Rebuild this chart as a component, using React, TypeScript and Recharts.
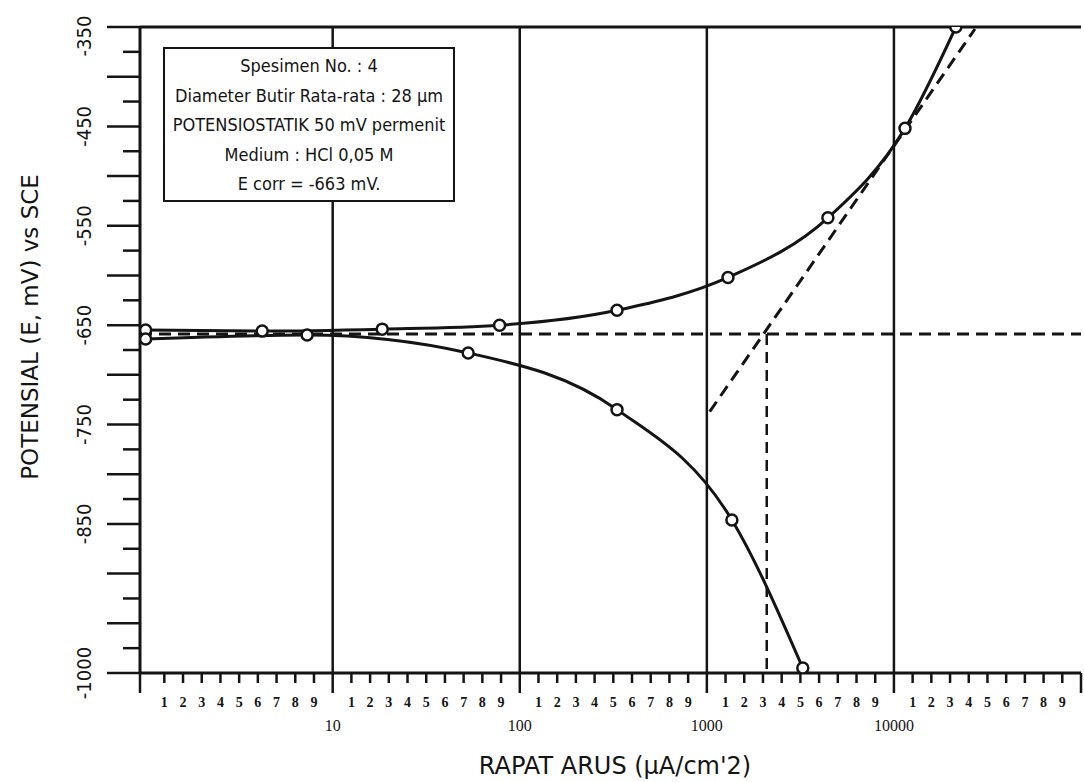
import React from 'react';
import { LineChart, Line, XAxis, YAxis, ReferenceLine } from 'recharts';

// ---- data ----
// anodic branch (upper curve): current density (µA/cm²) and potential (mV vs SCE)
const anodicCurrent = [1, 4.2, 18.4, 78, 331, 1297, 4436, 11460, 21430];
const anodicPotential = [-655, -656, -654, -650, -635, -602, -542, -452, -350];
// cathodic branch (lower curve)
const cathodicCurrent = [1, 7.3, 53, 331, 1361, 3258];
const cathodicPotential = [-664, -660, -678, -735, -846, -995];
// anodic Tafel extrapolation (dashed)
const tafelCurrent = [1036, 27100];
const tafelPotential = [-737, -352];
// corrosion potential / current construction lines
const ecorrLine = -659;
const icorr = 2090;

// axes
const X_MIN = Math.pow(10, -0.03);
const X_MAX = 100000;
const Y_MIN = -1000;
const Y_MAX = -350;
const decadeValues = [10, 100, 1000, 10000];
const decadeLabels = ['10', '100', '1000', '10000'];
const minorLabels = ['1', '2', '3', '4', '5', '6', '7', '8', '9'];
const yLabelValues = [-350, -450, -550, -650, -750, -850, -1000];
const yStep = 25;

const legendLines = [
  'Spesimen No. : 4',
  'Diameter Butir Rata-rata : 28 µm',
  'POTENSIOSTATIK 50 mV permenit',
  'Medium : HCl 0,05 M',
  'E corr = -663 mV.',
];
const xTitle = "RAPAT ARUS (µA/cm'2)";
const yTitle = 'POTENSIAL (E, mV) vs SCE';

// ---- derived tables ----
const anodicData = anodicCurrent.map((x, i) => ({ x, e: anodicPotential[i] }));
const cathodicData = cathodicCurrent.map((x, i) => ({ x, e: cathodicPotential[i] }));
const tafelData = tafelCurrent.map((x, i) => ({ x, e: tafelPotential[i] }));
const ecorrData = [
  { x: X_MIN, e: ecorrLine },
  { x: X_MAX, e: ecorrLine },
];
const icorrData = [
  { x: icorr, e: ecorrLine },
  { x: icorr, e: Y_MIN },
];

type XTickInfo = { value: number; kind: 'major' | 'minor'; label: string };
const xTickInfo: XTickInfo[] = [];
for (let d = 0; d < 5; d++) {
  if (d === 0) xTickInfo.push({ value: X_MIN, kind: 'major', label: '' });
  else xTickInfo.push({ value: decadeValues[d - 1], kind: 'major', label: decadeLabels[d - 1] });
  for (let i = 1; i <= 9; i++) {
    xTickInfo.push({ value: Math.pow(10, d + i / 10), kind: 'minor', label: minorLabels[i - 1] });
  }
}
xTickInfo.push({ value: X_MAX, kind: 'major', label: '' });
const xTicks = xTickInfo.map((t) => t.value);

const yTicks: number[] = [];
for (let v = Y_MIN; v <= Y_MAX; v += yStep) yTicks.push(v);

const INK = '#141414';

const XTick = (props: any) => {
  const { x, y, index } = props;
  const info = xTickInfo[index];
  if (!info) return null;
  const major = info.kind === 'major';
  return (
    <g>
      <line x1={x} x2={x} y1={y} y2={y + (major ? 20 : 10)} stroke={INK} strokeWidth={2.5} />
      {major ? (
        info.label ? (
          <text
            x={x}
            y={y + 52}
            textAnchor="middle"
            dominantBaseline="central"
            fontFamily="'Liberation Serif', 'DejaVu Serif', serif"
            fontSize={16}
            fill={INK}
          >
            {info.label}
          </text>
        ) : null
      ) : (
        <text
          x={x}
          y={y + 29}
          textAnchor="middle"
          dominantBaseline="central"
          fontFamily="'Liberation Serif', 'DejaVu Serif', serif"
          fontSize={14}
          fontWeight="bold"
          fill={INK}
        >
          {info.label}
        </text>
      )}
    </g>
  );
};

const YTick = (props: any) => {
  const { x, y, payload } = props;
  const v = payload.value as number;
  const long = v % 50 === 0;
  const showLabel = yLabelValues.includes(v);
  const lx = x - 56;
  const ly = Math.max(y, 36);
  return (
    <g>
      <line x1={x} x2={x - (long ? 33 : 17)} y1={y} y2={y} stroke={INK} strokeWidth={2.5} />
      {showLabel && (
        <text
          x={lx}
          y={ly}
          transform={`rotate(-90 ${lx} ${ly})`}
          textAnchor="middle"
          dominantBaseline="central"
          fontFamily="'DejaVu Sans Condensed', 'DejaVu Sans', sans-serif"
          fontSize={20}
          fill={INK}
        >
          {v}
        </text>
      )}
    </g>
  );
};

const dotStyle = { r: 5.5, fill: '#fff', stroke: INK, strokeWidth: 2.5 };

export default function App() {
  return (
    <div
      style={{
        position: 'absolute',
        left: 0,
        top: 0,
        width: 1084,
        height: 782,
        background: '#fff',
        overflow: 'hidden',
      }}
    >
      <LineChart width={1084} height={782} margin={{ top: 27, right: 3, bottom: 9, left: 40 }}>
        <XAxis
          dataKey="x"
          type="number"
          scale="log"
          domain={[X_MIN, X_MAX]}
          allowDataOverflow
          ticks={xTicks}
          interval={0}
          height={100}
          tickSize={0}
          tickMargin={0}
          tickLine={false}
          tick={<XTick />}
          axisLine={{ stroke: INK, strokeWidth: 3 }}
        />
        <YAxis
          type="number"
          domain={[Y_MIN, Y_MAX]}
          allowDataOverflow
          ticks={yTicks}
          interval={0}
          width={100}
          tickSize={0}
          tickMargin={0}
          tickLine={false}
          tick={<YTick />}
          axisLine={{ stroke: INK, strokeWidth: 3 }}
        />
        {decadeValues.map((v) => (
          <ReferenceLine key={v} x={v} stroke={INK} strokeWidth={2.5} ifOverflow="extendDomain" />
        ))}
        <ReferenceLine y={Y_MAX} stroke={INK} strokeWidth={3} />
        <Line
          data={ecorrData}
          dataKey="e"
          type="linear"
          stroke={INK}
          strokeWidth={3}
          strokeDasharray="12 7"
          dot={false}
          activeDot={false}
          isAnimationActive={false}
        />
        <Line
          data={icorrData}
          dataKey="e"
          type="linear"
          stroke={INK}
          strokeWidth={2.5}
          strokeDasharray="11 7"
          dot={false}
          activeDot={false}
          isAnimationActive={false}
        />
        <Line
          data={tafelData}
          dataKey="e"
          type="linear"
          stroke={INK}
          strokeWidth={3}
          strokeDasharray="12 7"
          dot={false}
          activeDot={false}
          isAnimationActive={false}
        />
        <Line
          data={anodicData}
          dataKey="e"
          type="monotone"
          stroke={INK}
          strokeWidth={3}
          dot={dotStyle}
          activeDot={false}
          isAnimationActive={false}
        />
        <Line
          data={cathodicData}
          dataKey="e"
          type="monotone"
          stroke={INK}
          strokeWidth={3}
          dot={dotStyle}
          activeDot={false}
          isAnimationActive={false}
        />
      </LineChart>

      {/* legend box */}
      <div
        style={{
          position: 'absolute',
          left: 163,
          top: 47,
          width: 292,
          height: 155,
          border: `2.5px solid ${INK}`,
          boxSizing: 'border-box',
          background: '#fff',
          paddingTop: 2,
          fontFamily: "'DejaVu Sans Condensed', 'DejaVu Sans', sans-serif",
          fontSize: 18,
          color: INK,
          textAlign: 'center',
        }}
      >
        {legendLines.map((t) => (
          <div key={t} style={{ height: 29.5, lineHeight: '29.5px', whiteSpace: 'nowrap' }}>
            {t}
          </div>
        ))}
      </div>

      {/* axis titles */}
      <div
        style={{
          position: 'absolute',
          left: 30,
          top: 327,
          transform: 'translate(-50%, -50%) rotate(-90deg)',
          whiteSpace: 'nowrap',
          fontFamily: "'DejaVu Sans', sans-serif",
          fontSize: 23,
          color: INK,
        }}
      >
        {yTitle}
      </div>
      <div
        style={{
          position: 'absolute',
          left: 615,
          top: 766,
          transform: 'translate(-50%, -50%)',
          whiteSpace: 'nowrap',
          fontFamily: "'DejaVu Sans', sans-serif",
          fontSize: 24,
          color: INK,
        }}
      >
        {xTitle}
      </div>
    </div>
  );
}
